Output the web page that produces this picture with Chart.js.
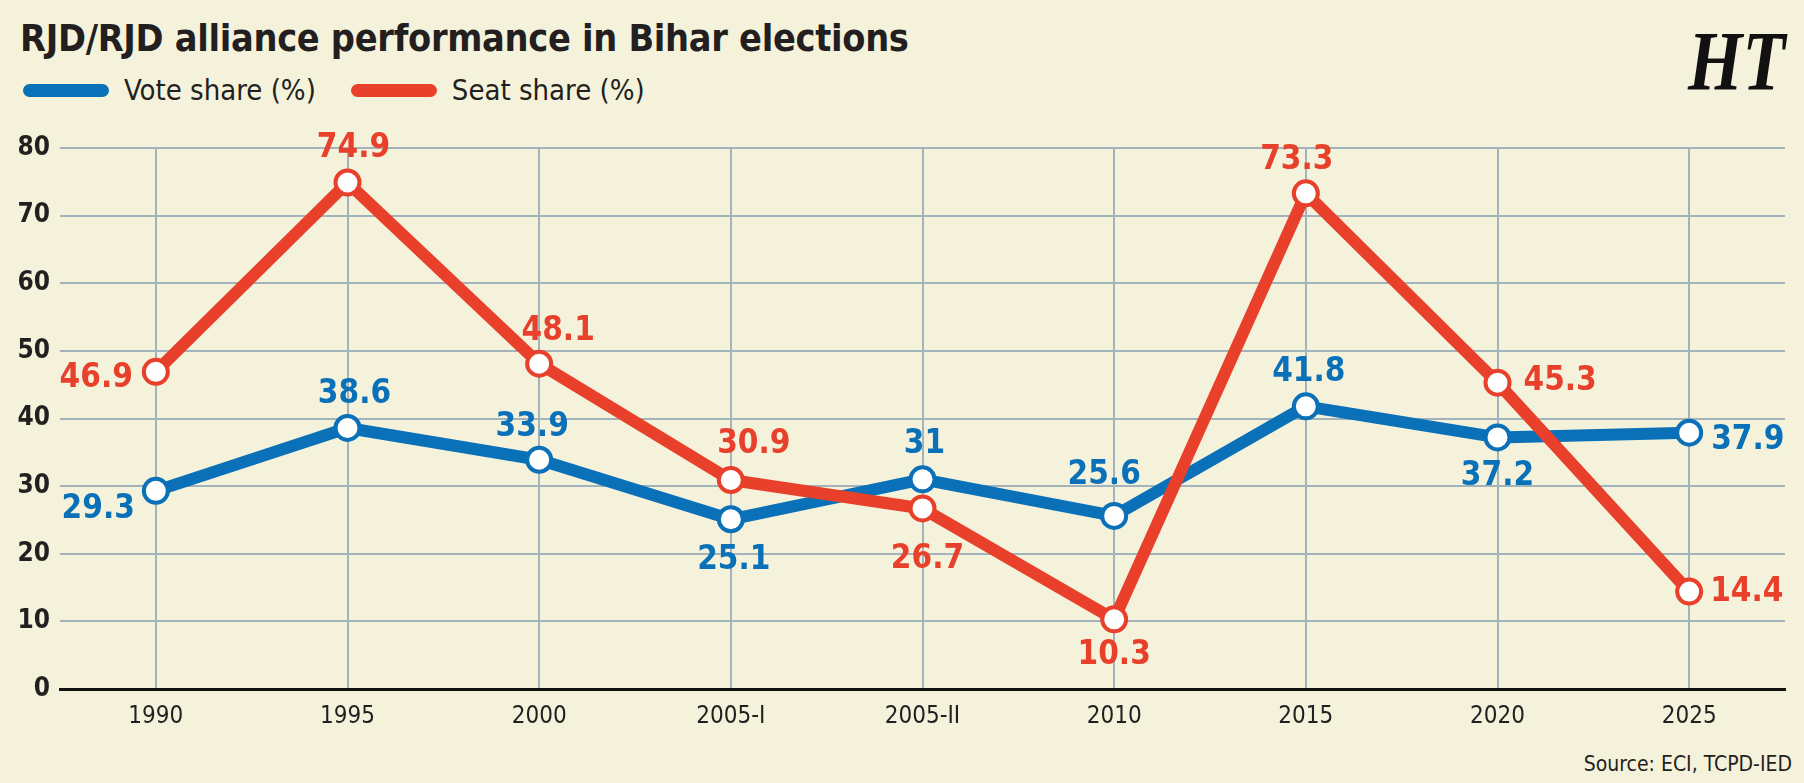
<!DOCTYPE html>
<html>
<head>
<meta charset="utf-8">
<script src="https://cdn.jsdelivr.net/npm/chart.js@4"></script>
<style>
  html, body { margin: 0; padding: 0; }
  body { width: 1804px; height: 783px; background: #f5f2dc; position: relative; overflow: hidden;
         font-family: "DejaVu Sans Condensed", sans-serif; color: #231f20; }
  #chart { position: absolute; left: 0; top: 0; }
  .title { position: absolute; left: 20px; top: 16px; font-size: 37.5px; font-weight: bold; letter-spacing: -0.3px; }
  .legend { position: absolute; left: 23px; top: 73px; font-size: 29px; display: flex; align-items: center; }
  .legend .sw { display: inline-block; width: 86px; height: 13px; border-radius: 7px; margin-right: 15px; }
  .legend .item { display: flex; align-items: center; margin-right: 35px; }
  .logo { position: absolute; left: 1688px; top: 14px; font-family: "Liberation Serif", "DejaVu Serif", serif;
          font-weight: bold; font-style: italic; font-size: 70px; transform: scaleY(1.2); transform-origin: top left; color: #111; }
  .source { position: absolute; right: 12px; top: 752px; font-size: 21px; }
</style>
</head>
<body>
<div class="title">RJD/RJD alliance performance in Bihar elections</div>
<div class="legend">
  <div class="item"><span class="sw" style="background:#0a70b8"></span>Vote share (%)</div>
  <div class="item"><span class="sw" style="background:#e8402b"></span>Seat share (%)</div>
</div>
<div class="logo">HT</div>
<div class="source">Source: ECI, TCPD-IED</div>
<canvas id="chart" width="1804" height="783"></canvas>
<script>
const years = ['1990', '1995', '2000', '2005-I', '2005-II', '2010', '2015', '2020', '2025'];
const voteShare = [29.3, 38.6, 33.9, 25.1, 31, 25.6, 41.8, 37.2, 37.9];
const seatShare = [46.9, 74.9, 48.1, 30.9, 26.7, 10.3, 73.3, 45.3, 14.4];
const yTicks = [0, 10, 20, 30, 40, 50, 60, 70, 80];

const BLUE = '#0a70b8';
const RED = '#e8402b';
const GRID = '#a2b3bb';
const COND = '"DejaVu Sans Condensed", sans-serif';

// where each value label sits relative to its point: [dx, dy, align]
const voteLabelPos = [[-21, 18, 'right'], [7, -35, 'center'], [-7, -33, 'center'], [3, 40, 'center'], [2, -36, 'center'],
  [-10, -41, 'center'], [3, -35, 'center'], [0, 38, 'center'], [22, 7, 'left']];
const seatLabelPos = [[-23, 6, 'right'], [6, -35, 'center'], [19, -33, 'center'], [23, -37, 'center'], [5, 50, 'center'],
  [0, 35, 'center'], [-9, -34, 'center'], [26, -2, 'left'], [21, 0, 'left']];

const valueLabels = {
  id: 'valueLabels',
  afterDatasetsDraw(chart) {
    const ctx = chart.ctx;
    ctx.save();
    ctx.font = 'bold 33px ' + COND;
    ctx.textBaseline = 'middle';
    chart.data.datasets.forEach((ds, di) => {
      const meta = chart.getDatasetMeta(di);
      const pos = di === 0 ? voteLabelPos : seatLabelPos;
      ctx.fillStyle = ds.borderColor;
      meta.data.forEach((pt, i) => {
        const [dx, dy, align] = pos[i];
        ctx.textAlign = align;
        ctx.fillText(String(ds.data[i]), pt.x + dx, pt.y + dy + 1);
      });
    });
    ctx.restore();
  }
};

new Chart(document.getElementById('chart'), {
  type: 'line',
  data: {
    labels: years,
    datasets: [
      { label: 'Vote share (%)', data: voteShare, borderColor: BLUE, borderWidth: 12, order: 1,
        pointRadius: 12, pointBorderWidth: 4, pointBackgroundColor: '#fff', pointBorderColor: BLUE,
        borderJoinStyle: 'round', borderCapStyle: 'round' },
      { label: 'Seat share (%)', data: seatShare, borderColor: RED, borderWidth: 12, order: 0,
        pointRadius: 12, pointBorderWidth: 4, pointBackgroundColor: '#fff', pointBorderColor: RED,
        borderJoinStyle: 'round', borderCapStyle: 'round' }
    ]
  },
  options: {
    responsive: false,
    animation: false,
    layout: { padding: { top: 148, right: 19, bottom: 0, left: 0 } },
    plugins: { legend: { display: false }, tooltip: { enabled: false } },
    scales: {
      x: {
        offset: true,
        afterFit(scale) { scale.height = 94; },
        grid: { color: GRID, lineWidth: 2, drawTicks: false, offset: false },
        border: { display: true, color: '#111', width: 3 },
        ticks: { color: '#231f20', padding: 13, font: { family: COND, size: 24 } }
      },
      y: {
        min: 0, max: 80,
        afterFit(scale) { scale.width = 60; },
        afterBuildTicks(scale) { scale.ticks = yTicks.map(v => ({ value: v })); },
        grid: { color: GRID, lineWidth: 2, drawTicks: false },
        border: { display: false },
        ticks: { color: '#231f20', padding: 10, font: { family: COND, size: 26, weight: 'bold' } }
      }
    }
  },
  plugins: [valueLabels]
});
</script>
</body>
</html>
